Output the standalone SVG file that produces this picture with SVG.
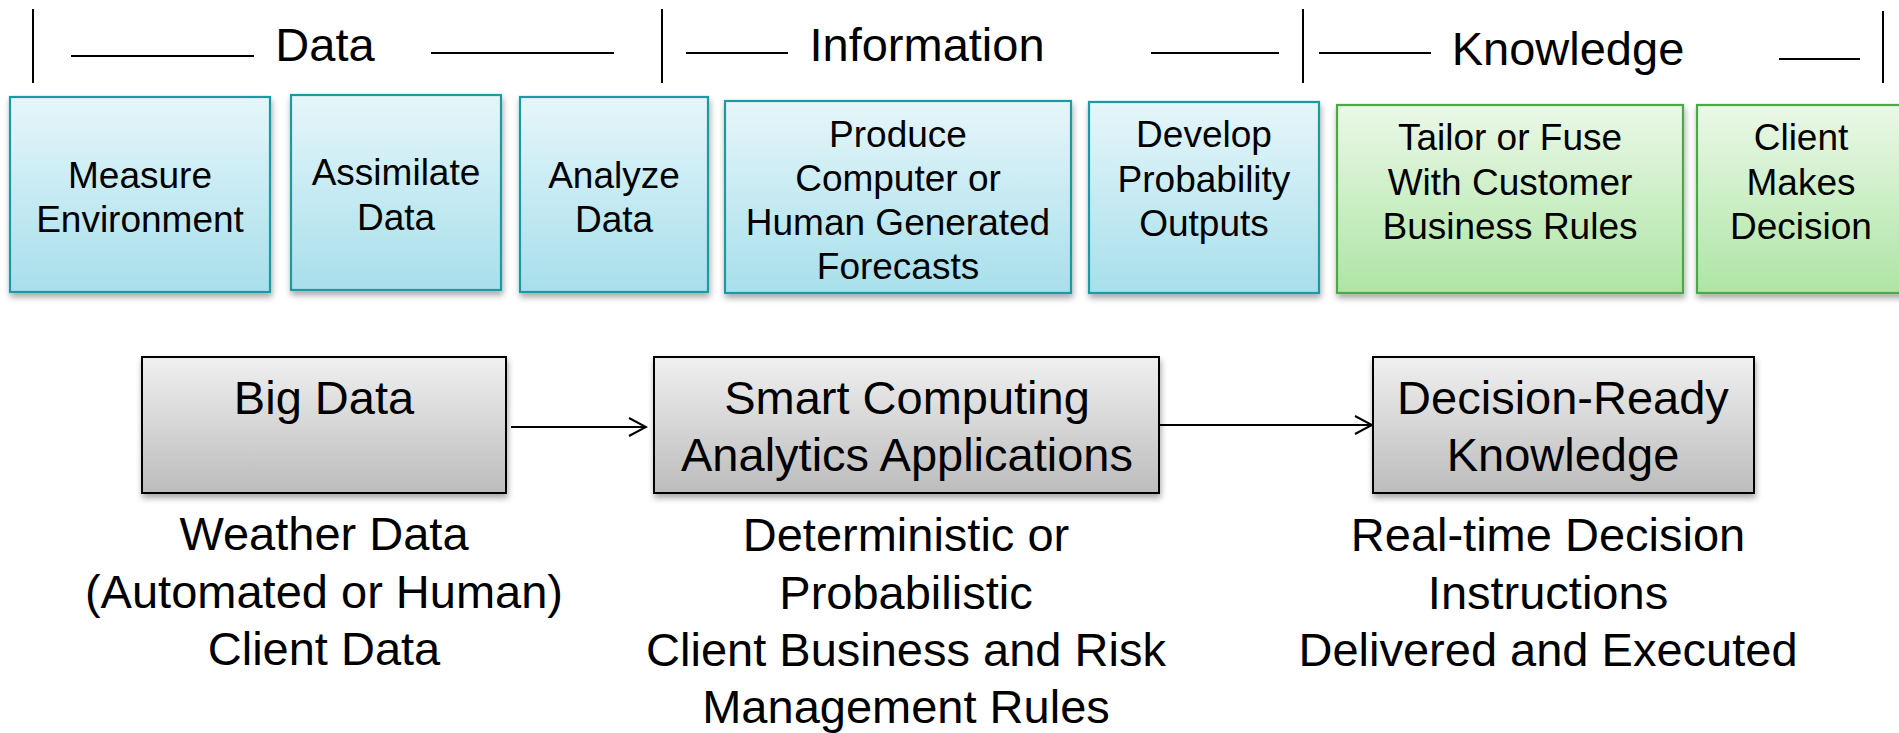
<svg xmlns="http://www.w3.org/2000/svg" width="1899" height="733" viewBox="0 0 1899 733">
<style>
text{font-family:"Liberation Sans",Arial,sans-serif;fill:#000;text-anchor:middle}
.hd{font-size:47px}
.tb{font-size:37px}
.bb{font-size:47px}
.bt{font-size:47px}
.rule{stroke:#000;stroke-width:2;fill:none}
.cy{fill:url(#gCyan);stroke:#1F9AA3;stroke-width:2.2}
.gr{fill:url(#gGreen);stroke:#4FA64A;stroke-width:2.2}
.gy{fill:url(#gGray);stroke:#000;stroke-width:2}
.conn{stroke:#000;stroke-width:2;fill:none}
</style>
<defs>
<linearGradient id="gCyan" x1="0" y1="0" x2="0" y2="1"><stop offset="0" stop-color="#E6F6FA"/><stop offset="1" stop-color="#A7DFEB"/></linearGradient>
<linearGradient id="gGreen" x1="0" y1="0" x2="0" y2="1"><stop offset="0" stop-color="#EBF8E8"/><stop offset="1" stop-color="#ADE5A4"/></linearGradient>
<linearGradient id="gGray" x1="0" y1="0" x2="0" y2="1"><stop offset="0" stop-color="#F0F0F0"/><stop offset="1" stop-color="#BCBCBC"/></linearGradient>
<filter id="sh" x="-10%" y="-10%" width="120%" height="130%"><feDropShadow dx="1" dy="4" stdDeviation="3" flood-color="#000" flood-opacity="0.35"/></filter>
<marker id="arr" markerWidth="22" markerHeight="24" refX="20" refY="12" orient="auto" markerUnits="userSpaceOnUse"><path d="M3,3 L20,12 L3,21" fill="none" stroke="#000" stroke-width="2"/></marker>
</defs>

<g id="header">
<line class="rule" x1="33" y1="9" x2="33" y2="83"/>
<line class="rule" x1="71" y1="56" x2="254" y2="56"/>
<text class="hd" x="325" y="61">Data</text>
<line class="rule" x1="431" y1="53" x2="614" y2="53"/>
<line class="rule" x1="662" y1="9" x2="662" y2="83"/>
<line class="rule" x1="686" y1="53" x2="788" y2="53"/>
<text class="hd" x="927" y="61">Information</text>
<line class="rule" x1="1151" y1="53" x2="1279" y2="53"/>
<line class="rule" x1="1303" y1="9" x2="1303" y2="83"/>
<line class="rule" x1="1319" y1="53" x2="1431" y2="53"/>
<text class="hd" x="1568" y="65">Knowledge</text>
<line class="rule" x1="1779" y1="59" x2="1860" y2="59"/>
<line class="rule" x1="1883" y1="11" x2="1883" y2="83"/>
</g>

<g id="measure">
<rect class="cy" x="10" y="97" width="260" height="195" filter="url(#sh)"/>
<text class="tb" x="140" y="188">Measure</text>
<text class="tb" x="140" y="232">Environment</text>
</g>
<g id="assimilate">
<rect class="cy" x="291" y="95" width="210" height="195" filter="url(#sh)"/>
<text class="tb" x="396" y="185">Assimilate</text>
<text class="tb" x="396" y="230">Data</text>
</g>
<g id="analyze">
<rect class="cy" x="520" y="97" width="188" height="195" filter="url(#sh)"/>
<text class="tb" x="614" y="188">Analyze</text>
<text class="tb" x="614" y="232">Data</text>
</g>
<g id="produce">
<rect class="cy" x="725" y="101" width="346" height="192" filter="url(#sh)"/>
<text class="tb" x="898" y="147">Produce</text>
<text class="tb" x="898" y="191">Computer or</text>
<text class="tb" x="898" y="235">Human Generated</text>
<text class="tb" x="898" y="279">Forecasts</text>
</g>
<g id="develop">
<rect class="cy" x="1089" y="102" width="230" height="191" filter="url(#sh)"/>
<text class="tb" x="1204" y="147">Develop</text>
<text class="tb" x="1204" y="192">Probability</text>
<text class="tb" x="1204" y="236">Outputs</text>
</g>
<g id="tailor">
<rect class="gr" x="1337" y="105" width="346" height="188" filter="url(#sh)"/>
<text class="tb" x="1510" y="150">Tailor or Fuse</text>
<text class="tb" x="1510" y="195">With Customer</text>
<text class="tb" x="1510" y="239">Business Rules</text>
</g>
<g id="client">
<rect class="gr" x="1697" y="105" width="210" height="188" filter="url(#sh)"/>
<text class="tb" x="1801" y="150">Client</text>
<text class="tb" x="1801" y="195">Makes</text>
<text class="tb" x="1801" y="239">Decision</text>
</g>

<g id="connectors">
<line class="conn" x1="511" y1="427" x2="646" y2="427" marker-end="url(#arr)"/>
<line class="conn" x1="1159" y1="425" x2="1372" y2="425" marker-end="url(#arr)"/>
</g>

<g id="bigdata">
<rect class="gy" x="142" y="357" width="364" height="136" filter="url(#sh)"/>
<text class="bb" x="324" y="414">Big Data</text>
<text class="bt" x="324" y="550">Weather Data</text>
<text class="bt" x="324" y="608">(Automated or Human)</text>
<text class="bt" x="324" y="665">Client Data</text>
</g>
<g id="smart">
<rect class="gy" x="654" y="357" width="505" height="136" filter="url(#sh)"/>
<text class="bb" x="907" y="414">Smart Computing</text>
<text class="bb" x="907" y="471">Analytics Applications</text>
<text class="bt" x="906" y="551">Deterministic or</text>
<text class="bt" x="906" y="609">Probabilistic</text>
<text class="bt" x="906" y="666">Client Business and Risk</text>
<text class="bt" x="906" y="723">Management Rules</text>
</g>
<g id="decision">
<rect class="gy" x="1373" y="357" width="381" height="136" filter="url(#sh)"/>
<text class="bb" x="1563" y="414">Decision-Ready</text>
<text class="bb" x="1563" y="471">Knowledge</text>
<text class="bt" x="1548" y="551">Real-time Decision</text>
<text class="bt" x="1548" y="609">Instructions</text>
<text class="bt" x="1548" y="666">Delivered and Executed</text>
</g>
</svg>
